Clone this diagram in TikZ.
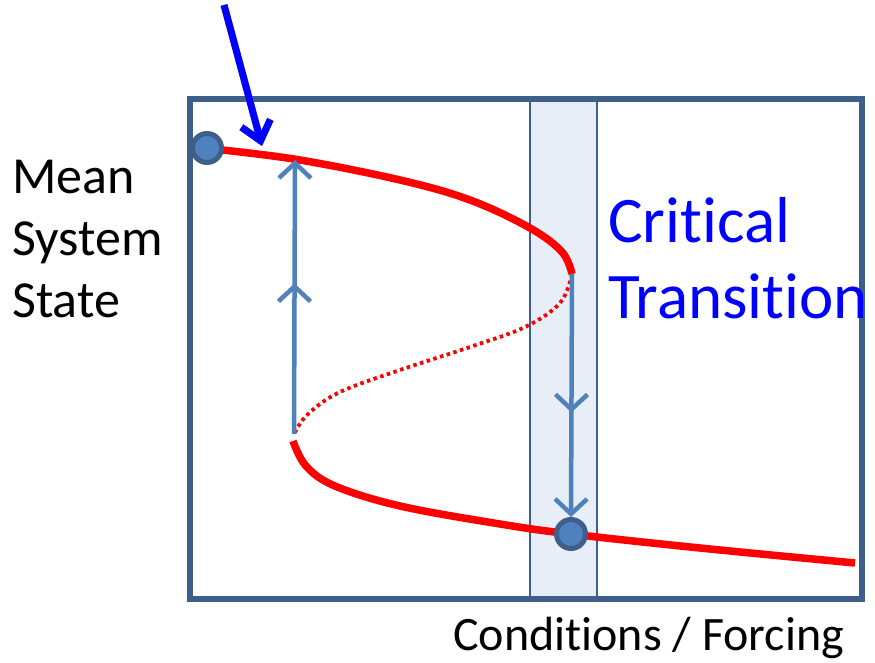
\documentclass[tikz,border=0pt]{standalone}
\usepackage{fontspec}
\setmainfont{Carlito}[Ligatures=NoCommon]
\usepackage{xcolor}
\usepackage{tikz}
\usetikzlibrary{arrows.meta,decorations.markings}

\definecolor{framecol}{RGB}{63,95,139}
\definecolor{flowcol}{RGB}{79,129,189}
\definecolor{bandcol}{RGB}{232,238,247}

\begin{document}
\begin{tikzpicture}[
x=1pt,
y=-1pt,
every node/.style={font=\fontsize{52}{62}\selectfont},
frame/.style={draw=framecol,line width=5.5pt},
band/.style={draw=framecol,line width=2pt},
branch/.style={draw=red,line width=7.5pt},
unstable/.style={draw=red,line width=3.8pt,dash pattern=on 3.5pt off 3.5pt},
jump/.style={draw=flowcol,line width=4.5pt,-{Straight Barb[length=15pt,width=32pt,line width=4.5pt]}},
midhead/.style={postaction={decorate},decoration={markings,mark=at position #1 with {\arrow{Straight Barb[length=15pt,width=32pt,line width=4.5pt]}}}},
dot/.style={circle,draw=framecol,fill=flowcol,line width=5pt,minimum size=29pt,inner sep=0pt},
pointer/.style={draw=blue,line width=7pt,-{Straight Barb[length=18pt,width=30pt,line width=7pt]}}
]
\useasboundingbox (0,0) rectangle (875,663);

% frame and critical band
\fill[bandcol] (530,99) rectangle (597,599);
\draw[band] (530,99) -- (530,599) (597,99) -- (597,599);
\draw[frame] (190,99) rectangle (862,599);

% equilibrium curve
\coordinate (fold1) at (572,274);
\coordinate (fold2) at (294,434);
\draw[branch] plot[smooth,tension=0.6] coordinates {(222,150) (300,160) (400,180) (470,200) (530,228) (562,252) (572,274)};
\draw[unstable] plot[smooth,tension=0.6] coordinates {(572,274) (560,303) (525,327) (470,347) (400,370) (340,392) (308,414) (294,434)};
\draw[branch] plot[smooth,tension=0.6] coordinates {(293,441) (306,466) (335,486) (400,506) (500,524) (571,534) (700,548) (855,563)};

\node[dot] (high) at (207,148) {};
\node[dot] (low) at (571,534) {};

% jumps
\coordinate (upper) at (295,160);
\draw[jump,midhead=0.55] (fold2) -- (upper);
\draw[jump,midhead=0.57] (fold1) -- (low.north);

% pointer with shadow
\coordinate (ptop) at (224,5);
\coordinate (ptip) at (262,146);
\draw[pointer,draw=black!35,shift={(2.5,2.5)}] (ptop) -- (ptip);
\draw[pointer] (ptop) -- (ptip);

% labels
\node[anchor=base west,align=left,inner sep=0pt] (statetxt) at (12,317) {Mean\\System\\State};
\node[anchor=base west,align=left,inner sep=0pt,text=blue,font=\fontsize{65}{76}\selectfont] (crittxt) at (608,318) {Critical\\Transition};
\node[anchor=north west,inner sep=0pt,font=\fontsize{48}{58}\selectfont] (condtxt) at (453,617) {Conditions / Forcing};
\end{tikzpicture}
\end{document}
